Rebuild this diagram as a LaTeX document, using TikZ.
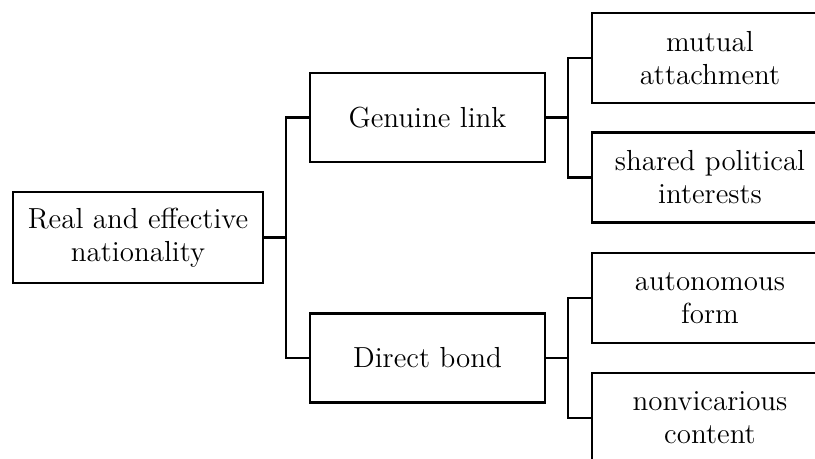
\documentclass[tikz,border=0pt]{standalone}
\begin{document}
\begin{tikzpicture}[x=0.5pt,y=-0.5pt,
  box/.style={draw, line width=1.2pt, align=center, inner sep=0pt,
    font=\fontsize{14.5}{16.5}\selectfont},
  rootbox/.style={box, minimum width=125pt, minimum height=45.5pt},
  midbox/.style={box, minimum width=117.5pt, minimum height=44.5pt},
  leafbox/.style={box, minimum width=118pt, minimum height=45pt},
  link/.style={line width=1.2pt}]
\useasboundingbox (0,0) rectangle (815,459);
\clip (0,0) rectangle (815,459);

% tree nodes
\node[rootbox] (root) at (138,237.5) {Real and effective\\nationality};
\node[midbox] (gl) at (427.5,117.5) {Genuine link};
\node[midbox] (db) at (427.5,358) {Direct bond};
\node[leafbox] (l1) at (710,58) {mutual\\attachment};
\node[leafbox] (l2) at (710,177.5) {shared political\\interests};
\node[leafbox] (l3) at (710,298) {autonomous\\form};
\node[leafbox] (l4) at (710,418) {nonvicarious\\content};

% branching points
\coordinate (j1) at (286,237.5);
\coordinate (j2) at (568,117.5);
\coordinate (j3) at (568,358);

% elbow connectors
\draw[link] (root.east) -- (j1);
\draw[link] (j1) |- (gl.west);
\draw[link] (j1) |- (db.west);
\draw[link] (gl.east) -- (j2);
\draw[link] (j2) |- (l1.west);
\draw[link] (j2) |- (l2.west);
\draw[link] (db.east) -- (j3);
\draw[link] (j3) |- (l3.west);
\draw[link] (j3) |- (l4.west);
\end{tikzpicture}
\end{document}
